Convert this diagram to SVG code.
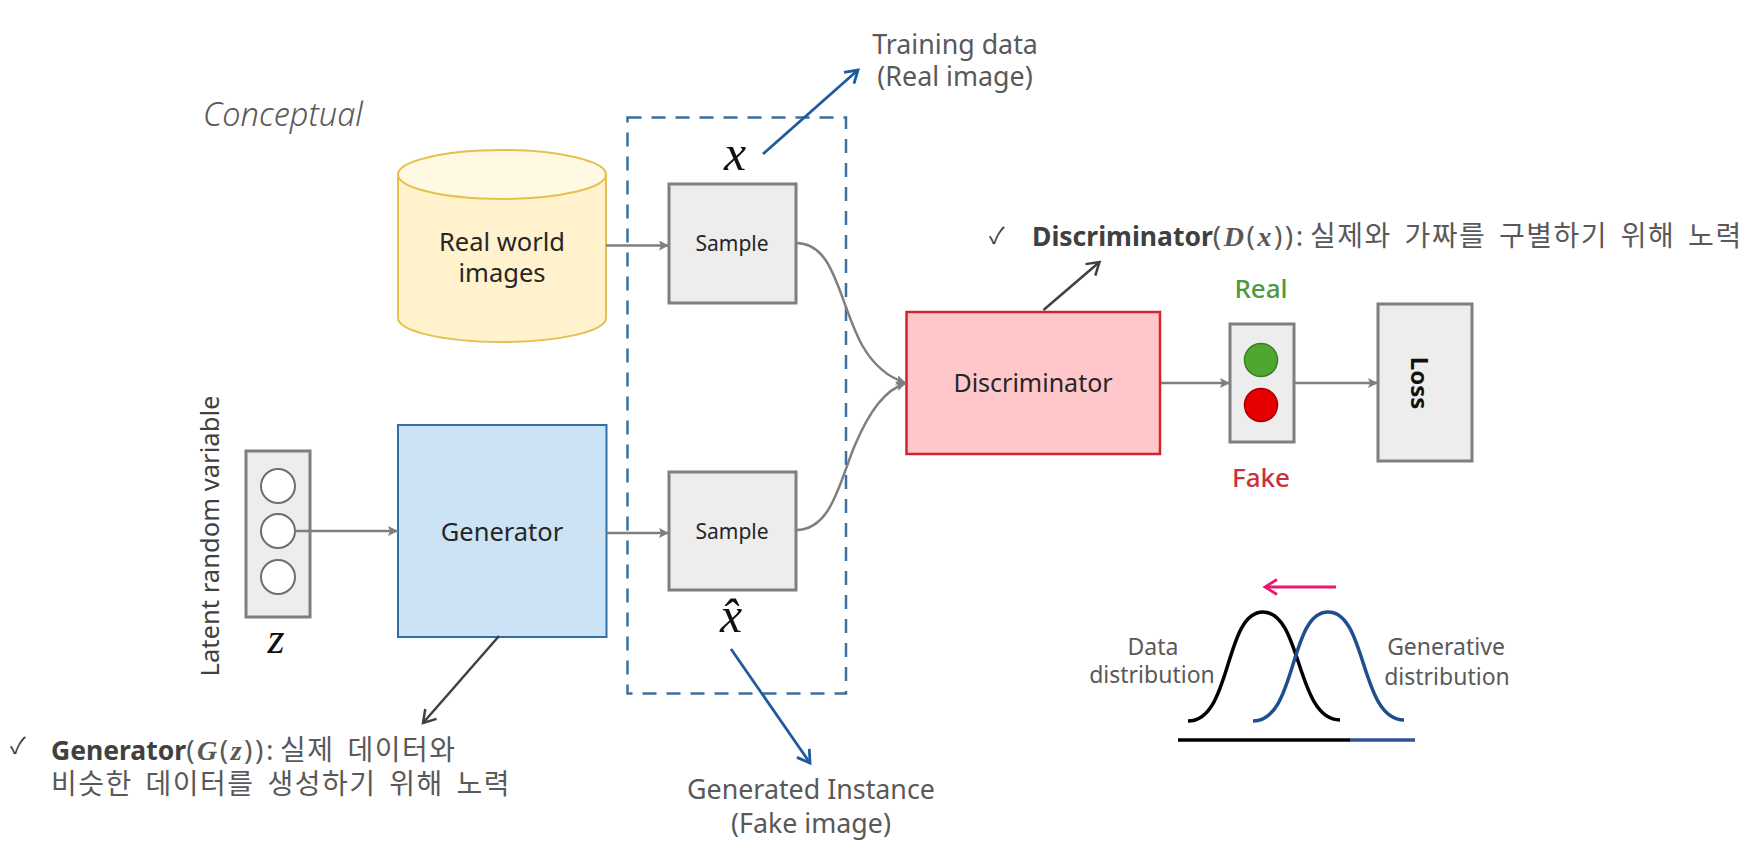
<svg xmlns="http://www.w3.org/2000/svg" width="1749" height="847" viewBox="0 0 1749 847">
<style>
text{font-family:"Noto Sans","Noto Sans CJK KR",sans-serif}
.c{text-anchor:middle}
.l{font-size:25.500px;fill:#262626}
.g{font-size:26.800px;fill:#595959}
.h{font-size:23px;fill:#595959}
.s{font-size:21px;fill:#262626}
.v{font-family:"Liberation Serif",serif;font-style:italic;fill:#111}
.m{font-family:"Liberation Serif",serif;font-style:italic;font-weight:bold}
.k{font-size:26.500px;fill:#595959}
.n{font-size:28px;fill:#595959;letter-spacing:2.500px}
.u{font-size:28px;fill:#595959;letter-spacing:1.500px;word-spacing:4px}
.b{font-weight:bold;fill:#404040}
.box{fill:#ededed;stroke:#7f7f7f;stroke-width:3}
.w{fill:#fff;stroke:#6e6e6e;stroke-width:2}
.f{fill:none;stroke:#7f7f7f;stroke-width:2.500}
.a{fill:none;stroke:#1f5a9e;stroke-width:2.800}
.d{fill:none;stroke:#404040;stroke-width:2.500}
</style>
<defs>
<marker id="t" markerUnits="userSpaceOnUse" markerWidth="12" markerHeight="10" refX="10" refY="5" orient="auto"><path d="M0 0L10 5L0 10L2 5Z" fill="#7f7f7f"/></marker>
<marker id="ob" markerUnits="userSpaceOnUse" markerWidth="20" markerHeight="20" refX="15" refY="9" orient="auto"><path d="M3 1.500L15 9L3 16.500" fill="none" stroke="#1f5a9e" stroke-width="2.800"/></marker>
<marker id="od" markerUnits="userSpaceOnUse" markerWidth="20" markerHeight="20" refX="15" refY="9" orient="auto"><path d="M3 1.500L15 9L3 16.500" fill="none" stroke="#404040" stroke-width="2.500"/></marker>
<marker id="op" markerUnits="userSpaceOnUse" markerWidth="20" markerHeight="20" refX="15" refY="9" orient="auto"><path d="M3 1.500L15 9L3 16.500" fill="none" stroke="#e8176f" stroke-width="2.800"/></marker>
</defs>
<rect width="1749" height="847" fill="#fff"/>

<g id="conceptual"><text x="203" y="126" font-size="32.500" font-style="italic" font-weight="300" fill="#595959">Conceptual</text></g>

<g id="sample-group"><rect x="627.500" y="117.500" width="218.500" height="576" fill="none" stroke="#3f6f9f" stroke-width="2.500" stroke-dasharray="14 10"/></g>

<g id="real-world-images">
<path d="M398 174.500V318C398 331 444 342 502 342S606 331 606 318V174.500Z" fill="#fff2cc" stroke="#e6c04f" stroke-width="2"/>
<ellipse cx="502" cy="174.500" rx="104" ry="24.500" fill="#fff8e3" stroke="#e6c04f" stroke-width="2"/>
<text class="l c" x="502" y="251">Real world</text>
<text class="l c" x="502" y="282">images</text>
</g>

<g id="sample-real"><rect class="box" x="669" y="184" width="127" height="119"/><text class="s c" x="732" y="251">Sample</text></g>
<g id="sample-fake"><rect class="box" x="669" y="472" width="127" height="118"/><text class="s c" x="732" y="539">Sample</text></g>

<g id="label-x"><text class="c v" x="735" y="170" font-size="50">x</text></g>
<g id="label-xhat"><text class="c v" x="731" y="632" font-size="50">x̂</text></g>
<g id="label-z"><text class="c v" x="276" y="653" font-size="44">z</text></g>

<g id="latent-vector">
<rect class="box" x="246" y="451" width="64" height="166"/>
<circle class="w" cx="278" cy="486" r="17"/>
<circle class="w" cx="278" cy="531" r="17"/>
<circle class="w" cx="278" cy="577" r="17"/>
</g>
<g id="latent-label"><text class="c" transform="translate(219 536) rotate(-90)" font-size="25.600" fill="#404040">Latent random variable</text></g>

<g id="generator"><rect x="398" y="425" width="208.500" height="212" fill="#cce2f5" stroke="#2f6fa8" stroke-width="2"/><text class="l c" x="502" y="541">Generator</text></g>
<g id="discriminator"><rect x="906.500" y="312" width="253.500" height="142" fill="#ffc7ca" stroke="#d3232c" stroke-width="2.500"/><text class="c" font-size="25" fill="#262626" x="1033" y="392">Discriminator</text></g>

<g id="traffic-light">
<rect class="box" x="1230" y="324" width="64" height="118"/>
<circle cx="1261" cy="360" r="16.500" fill="#4ea72e" stroke="#3c7d25" stroke-width="1.500"/>
<circle cx="1261" cy="405" r="16.500" fill="#e60000" stroke="#a80000" stroke-width="1.500"/>
</g>
<g id="label-real"><text class="c" x="1261" y="298" font-size="26" font-weight="500" fill="#4c9a3f">Real</text></g>
<g id="label-fake"><text class="c" x="1261" y="487" font-size="26" font-weight="500" fill="#c8323c">Fake</text></g>
<g id="loss"><rect class="box" x="1378" y="304" width="94" height="157"/><text class="c" transform="translate(1411 383) rotate(90)" font-size="24" font-weight="bold" fill="#111">Loss</text></g>

<g id="connectors">
<path class="f" marker-end="url(#t)" d="M606 245.500H669"/>
<path class="f" marker-end="url(#t)" d="M295 531H398"/>
<path class="f" marker-end="url(#t)" d="M606.500 533H669"/>
<path class="f" marker-end="url(#t)" d="M796 243C835 243 838 300 862 345C875 368 890 378 906 383"/>
<path class="f" marker-end="url(#t)" d="M796 530C832 530 840 480 855 445C870 410 885 390 906 383"/>
<path class="f" marker-end="url(#t)" d="M1161 383H1230"/>
<path class="f" marker-end="url(#t)" d="M1294 383H1378"/>
<path class="a" marker-end="url(#ob)" d="M763 154L858 70"/>
<path class="a" marker-end="url(#ob)" d="M731 649L810 763"/>
<path class="d" marker-end="url(#od)" d="M1043.500 310L1099.500 262"/>
<path class="d" marker-end="url(#od)" d="M499 636L423 723"/>
</g>

<g id="training-label">
<text class="g c" x="955" y="54">Training data</text>
<text class="g c" x="955" y="86">(Real image)</text>
</g>
<g id="generated-label">
<text class="g c" x="811" y="799">Generated Instance</text>
<text class="g c" x="811" y="833">(Fake image)</text>
</g>

<g id="discriminator-note">
<text x="989" y="244" font-size="23" fill="#404040">✓</text>
<text x="1032" y="246"><tspan class="k b">Discriminator</tspan><tspan class="n">(<tspan class="m">D</tspan>(<tspan class="m">x</tspan>)):</tspan> <tspan class="u">실제와 가짜를 구별하기 위해 노력</tspan></text>
</g>
<g id="generator-note">
<text x="10" y="754" font-size="23" fill="#404040">✓</text>
<text x="51" y="760"><tspan class="k b">Generator</tspan><tspan class="n">(<tspan class="m">G</tspan>(<tspan class="m">z</tspan>)):</tspan> <tspan class="u">실제 데이터와</tspan></text>
<text class="u" x="51" y="794">비슷한 데이터를 생성하기 위해 노력</text>
</g>

<g id="distribution">
<path d="M1336 587H1265" fill="none" stroke="#e8176f" stroke-width="2.800" marker-end="url(#op)"/>
<path d="M1188 721C1232 721 1224 612 1263 612C1302 612 1296 720 1340 720" fill="none" stroke="#000" stroke-width="3.500"/>
<path d="M1253 721C1297 721 1289 612 1328 612C1367 612 1360 720 1404 720" fill="none" stroke="#1f4e8c" stroke-width="3.500"/>
<path d="M1350 740H1415" stroke="#2f5597" stroke-width="3.500" fill="none"/>
<path d="M1178 740H1350" stroke="#000" stroke-width="3.500" fill="none"/>
<text class="h c" x="1153" y="655">Data</text>
<text class="h c" x="1152" y="683">distribution</text>
<text class="h c" x="1446" y="655">Generative</text>
<text class="h c" x="1447" y="685">distribution</text>
</g>
</svg>
